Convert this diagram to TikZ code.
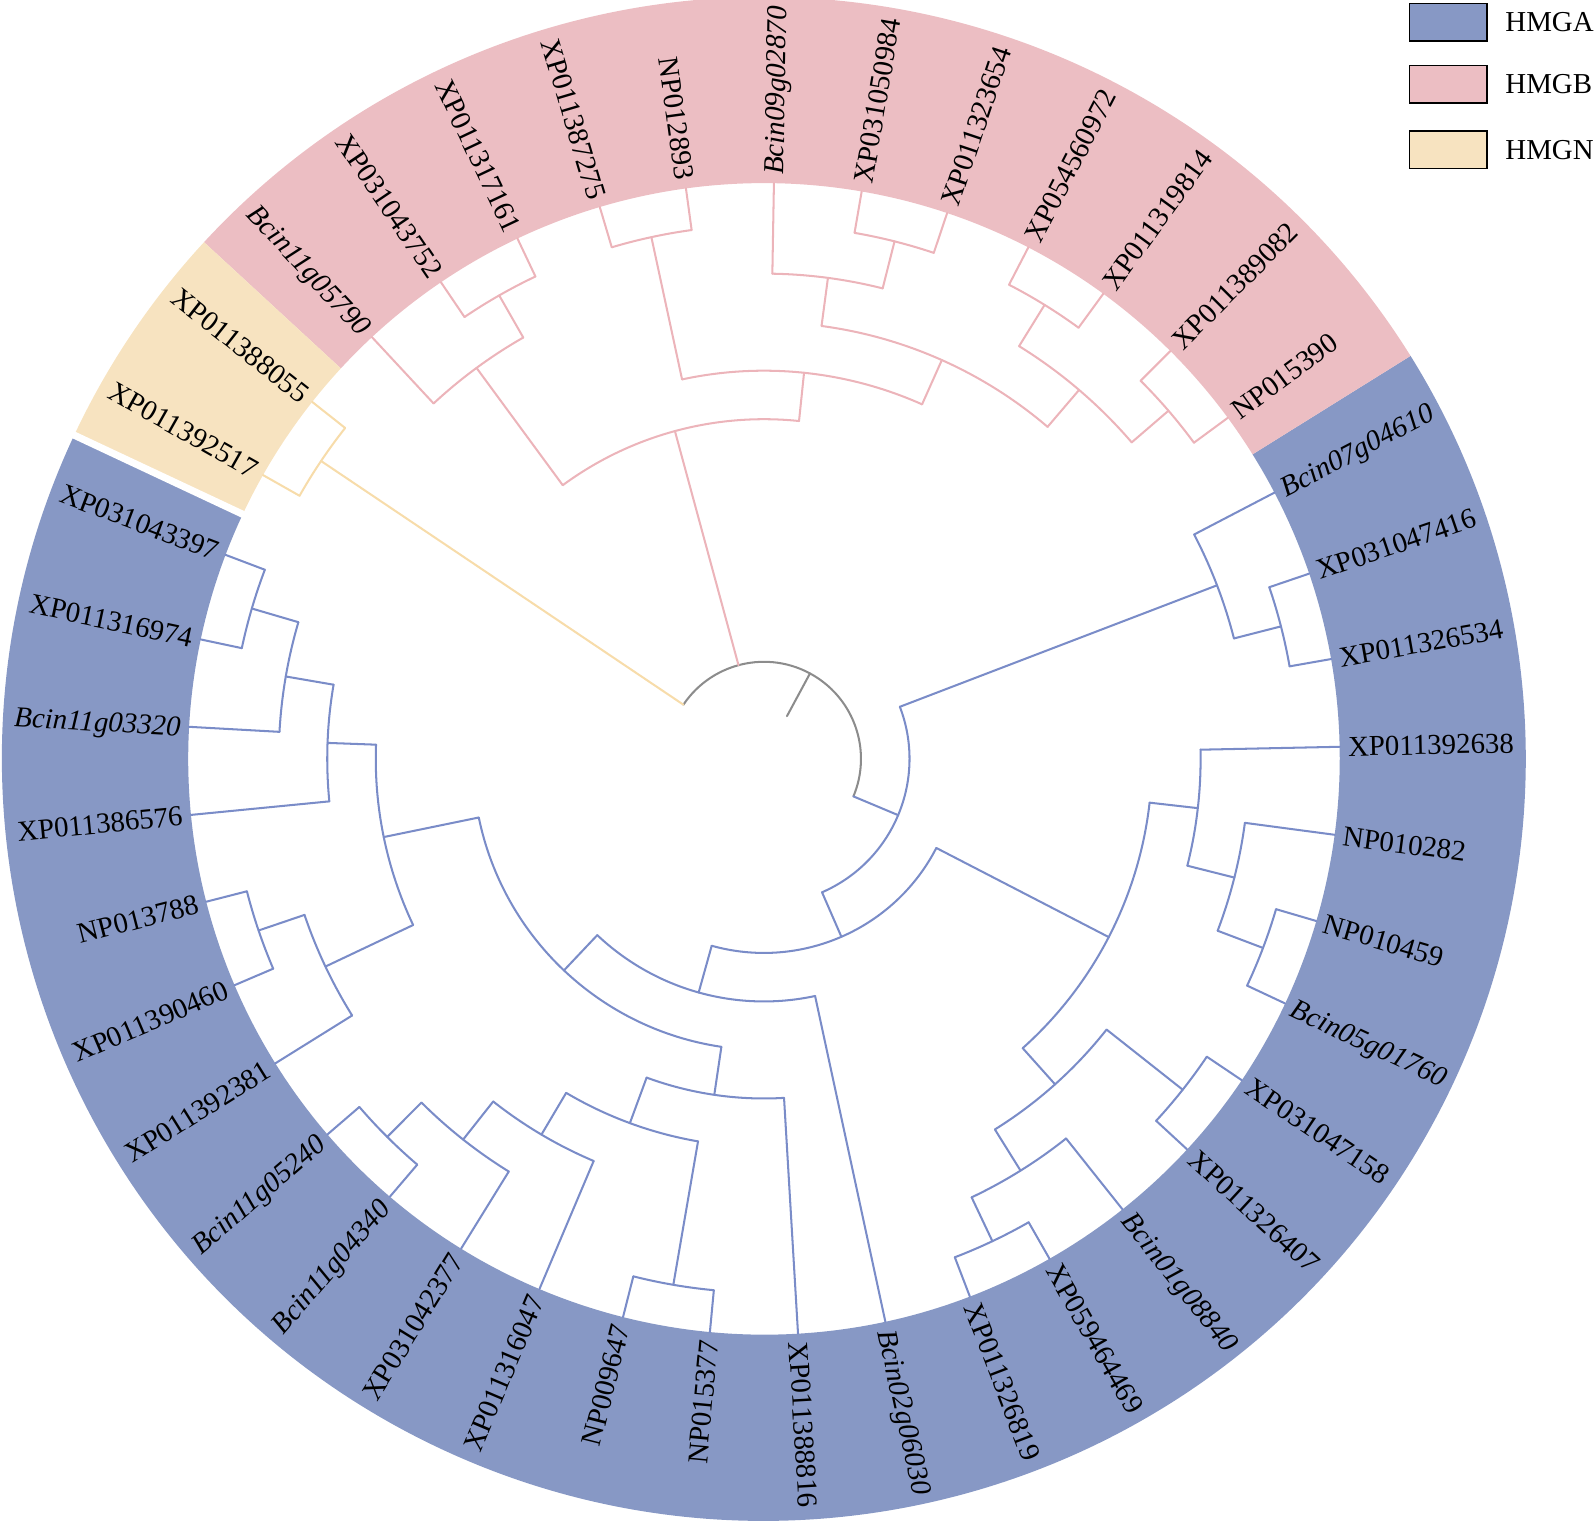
\documentclass[tikz,border=0pt]{standalone}
\usepackage{fontspec}
\setmainfont{Liberation Serif}
\definecolor{fa}{HTML}{8798C5}
\definecolor{fb}{HTML}{ECBEC3}
\definecolor{fn}{HTML}{F7E3C0}
\definecolor{lblue}{HTML}{7A8CC8}
\definecolor{lpink}{HTML}{ECB4BA}
\definecolor{lyel}{HTML}{F7DCAA}
\definecolor{lgray}{HTML}{8C8C8C}
\tikzset{
  bl/.style={draw=lblue, line width=1pt, line cap=round},
  pk/.style={draw=lpink, line width=1pt, line cap=round},
  yl/.style={draw=lyel, line width=1pt, line cap=round},
  gr/.style={draw=lgray, line width=1pt, line cap=round},
  lab/.style={font=\fontsize{14.2}{16}\selectfont, inner sep=0pt, text height=9.4pt, text depth=0pt},
  legbox/.style={draw=black, line width=0.8pt, minimum width=38pt, minimum height=18.5pt, inner sep=0pt},
}
\newcommand\carc[4]{\draw[#1] (#3:#2pt) arc[start angle=#3,end angle=#4,radius=#2pt];}
\newcommand\cstem[4]{\draw[#1] (#2:#3pt) -- (#2:#4pt);}
\newcommand\ringseg[3]{\fill[#1] (#2:283pt) arc[start angle=#2,end angle=#3,radius=283pt] -- (#3:374.5pt) arc[start angle=#3,end angle=#2,radius=374.5pt] -- cycle;}
\newcommand\labR[3]{\node[lab, rotate=#2, anchor=west] (#1) at (#2:287pt) {#3};}
\newcommand\labL[3]{\node[lab, rotate=#2+180, anchor=east] (#1) at (#2:287pt) {#3};}
\begin{document}
\begin{tikzpicture}
\useasboundingbox (-375.5pt,-376.5pt) rectangle (408.5pt,373pt);
% ring
\ringseg{fa}{31.93}{-205.14}
\ringseg{fb}{137.30}{31.93}
\ringseg{fn}{154.86}{137.30}
\draw[white, line width=3.5pt] (154.86:280pt) -- (154.86:377pt);
% root
\cstem{gr}{61.66}{23.85}{47.7}
\carc{gr}{47.7}{146.078}{-22.758}
\cstem{yl}{146.078}{47.7}{262.35}
\cstem{pk}{105.194}{47.7}{166.95}
\cstem{bl}{-22.758}{47.7}{71.55}
% HMGN
\carc{yl}{262.35}{150.468}{141.6875}
\cstem{yl}{150.468}{262.35}{283}
\cstem{yl}{141.6875}{262.35}{283}
% HMGB
\carc{pk}{166.95}{126.322}{84.066}
\cstem{pk}{126.322}{166.95}{238.5}
\cstem{pk}{84.066}{166.95}{190.8}
\carc{pk}{238.5}{132.907}{119.736}
\cstem{pk}{132.907}{238.5}{283}
\cstem{pk}{119.736}{238.5}{262.35}
\carc{pk}{262.35}{124.1265}{115.346}
\cstem{pk}{124.1265}{262.35}{283}
\cstem{pk}{115.346}{262.35}{283}
\carc{pk}{190.8}{102.175}{65.956}
\cstem{pk}{102.175}{190.8}{262.35}
\cstem{pk}{65.956}{190.8}{214.65}
\carc{pk}{262.35}{106.5655}{97.785}
\cstem{pk}{106.5655}{262.35}{283}
\cstem{pk}{97.785}{262.35}{283}
\carc{pk}{214.65}{82.419}{49.493}
\cstem{pk}{82.419}{214.65}{238.5}
\cstem{pk}{49.493}{214.65}{238.5}
\carc{pk}{238.5}{89.0045}{75.834}
\cstem{pk}{89.0045}{238.5}{283}
\cstem{pk}{75.834}{238.5}{262.35}
\carc{pk}{262.35}{80.224}{71.4435}
\cstem{pk}{80.224}{262.35}{283}
\cstem{pk}{71.4435}{262.35}{283}
\carc{pk}{238.5}{58.273}{40.712}
\cstem{pk}{58.273}{238.5}{262.35}
\cstem{pk}{40.712}{238.5}{262.35}
\carc{pk}{262.35}{62.663}{53.8825}
\cstem{pk}{62.663}{262.35}{283}
\cstem{pk}{53.8825}{262.35}{283}
\carc{pk}{262.35}{45.102}{36.3215}
\cstem{pk}{45.102}{262.35}{283}
\cstem{pk}{36.3215}{262.35}{283}
% HMGA
\carc{bl}{71.55}{20.956}{-66.472}
\cstem{bl}{20.956}{71.55}{238.5}
\cstem{bl}{-66.472}{71.55}{95.4}
\carc{bl}{238.5}{27.541}{14.370}
\cstem{bl}{27.541}{238.5}{283}
\cstem{bl}{14.370}{238.5}{262.35}
\carc{bl}{262.35}{18.7605}{9.98}
\cstem{bl}{18.7605}{262.35}{283}
\cstem{bl}{9.98}{262.35}{283}
\carc{bl}{95.4}{-27.337}{-105.607}
\cstem{bl}{-27.337}{95.4}{190.8}
\cstem{bl}{-105.607}{95.4}{119.25}
\carc{bl}{190.8}{-6.483}{-48.190}
\cstem{bl}{-6.483}{190.8}{214.65}
\cstem{bl}{-48.190}{190.8}{214.65}
\carc{bl}{214.65}{1.2}{-14.166}
\cstem{bl}{1.2}{214.65}{283}
\cstem{bl}{-14.166}{214.65}{238.5}
\carc{bl}{238.5}{-7.5805}{-20.751}
\cstem{bl}{-7.5805}{238.5}{283}
\cstem{bl}{-20.751}{238.5}{262.35}
\carc{bl}{262.35}{-16.361}{-25.1415}
\cstem{bl}{-16.361}{262.35}{283}
\cstem{bl}{-25.1415}{262.35}{283}
\carc{bl}{214.65}{-38.312}{-58.068}
\cstem{bl}{-38.312}{214.65}{262.35}
\cstem{bl}{-58.068}{214.65}{238.5}
\carc{bl}{262.35}{-33.922}{-42.7025}
\cstem{bl}{-33.922}{262.35}{283}
\cstem{bl}{-42.7025}{262.35}{283}
\carc{bl}{238.5}{-51.483}{-64.654}
\cstem{bl}{-51.483}{238.5}{283}
\cstem{bl}{-64.654}{238.5}{262.35}
\carc{bl}{262.35}{-60.2635}{-69.044}
\cstem{bl}{-60.2635}{262.35}{283}
\cstem{bl}{-69.044}{262.35}{283}
\carc{bl}{119.25}{-77.8245}{-133.389}
\cstem{bl}{-77.8245}{119.25}{283}
\cstem{bl}{-133.389}{119.25}{143.1}
\carc{bl}{143.1}{-98.404}{-168.374}
\cstem{bl}{-98.404}{143.1}{166.95}
\cstem{bl}{-168.374}{143.1}{190.8}
\carc{bl}{166.95}{-86.605}{-110.203}
\cstem{bl}{-86.605}{166.95}{283}
\cstem{bl}{-110.203}{166.95}{190.8}
\carc{bl}{190.8}{-99.776}{-120.629}
\cstem{bl}{-99.776}{190.8}{262.35}
\cstem{bl}{-120.629}{190.8}{214.65}
\carc{bl}{262.35}{-95.3855}{-104.166}
\cstem{bl}{-95.3855}{262.35}{283}
\cstem{bl}{-104.166}{262.35}{283}
\carc{bl}{214.65}{-112.9465}{-128.312}
\cstem{bl}{-112.9465}{214.65}{283}
\cstem{bl}{-128.312}{214.65}{238.5}
\carc{bl}{238.5}{-121.727}{-134.898}
\cstem{bl}{-121.727}{238.5}{283}
\cstem{bl}{-134.898}{238.5}{262.35}
\carc{bl}{262.35}{-130.5075}{-139.288}
\cstem{bl}{-130.5075}{262.35}{283}
\cstem{bl}{-139.288}{262.35}{283}
\carc{bl}{190.8}{-154.654}{-182.093}
\cstem{bl}{-154.654}{190.8}{238.5}
\cstem{bl}{-182.093}{190.8}{214.65}
\carc{bl}{238.5}{-148.0685}{-161.239}
\cstem{bl}{-148.0685}{238.5}{283}
\cstem{bl}{-161.239}{238.5}{262.35}
\carc{bl}{262.35}{-156.849}{-165.6295}
\cstem{bl}{-156.849}{262.35}{283}
\cstem{bl}{-165.6295}{262.35}{283}
\carc{bl}{214.65}{-174.41}{-189.776}
\cstem{bl}{-174.41}{214.65}{283}
\cstem{bl}{-189.776}{214.65}{238.5}
\carc{bl}{238.5}{-183.1905}{-196.361}
\cstem{bl}{-183.1905}{238.5}{283}
\cstem{bl}{-196.361}{238.5}{262.35}
\carc{bl}{262.35}{-191.971}{-200.7515}
\cstem{bl}{-191.971}{262.35}{283}
\cstem{bl}{-200.7515}{262.35}{283}
% labels
\labR{l0}{1.2}{XP011392638}
\labR{l1}{-7.5805}{NP010282}
\labR{l2}{-16.361}{NP010459}
\labR{l3}{-25.1415}{\itshape Bcin05g01760}
\labR{l4}{-33.922}{XP031047158}
\labR{l5}{-42.7025}{XP011326407}
\labR{l6}{-51.483}{\itshape Bcin01g08840}
\labR{l7}{-60.2635}{XP059464469}
\labR{l8}{-69.044}{XP011326819}
\labR{l9}{-77.8245}{\itshape Bcin02g06030}
\labR{l10}{-86.605}{XP011388816}
\labL{l11}{-95.3855}{NP015377}
\labL{l12}{-104.166}{NP009647}
\labL{l13}{-112.9465}{XP011316047}
\labL{l14}{-121.727}{XP031042377}
\labL{l15}{-130.5075}{\itshape Bcin11g04340}
\labL{l16}{-139.288}{\itshape Bcin11g05240}
\labL{l17}{-148.0685}{XP011392381}
\labL{l18}{-156.849}{XP011390460}
\labL{l19}{-165.6295}{NP013788}
\labL{l20}{-174.41}{XP011386576}
\labL{l21}{-183.1905}{\itshape Bcin11g03320}
\labL{l22}{-191.971}{XP011316974}
\labL{l23}{-200.7515}{XP031043397}
\labL{l24}{150.468}{XP011392517}
\labL{l25}{141.6875}{XP011388055}
\labL{l26}{132.907}{\itshape Bcin11g05790}
\labL{l27}{124.1265}{XP031043752}
\labL{l28}{115.346}{XP011317161}
\labL{l29}{106.5655}{XP011387275}
\labL{l30}{97.785}{NP012893}
\labR{l31}{89.0045}{\itshape Bcin09g02870}
\labR{l32}{80.224}{XP031050984}
\labR{l33}{71.4435}{XP011323654}
\labR{l34}{62.663}{XP054560972}
\labR{l35}{53.8825}{XP011319814}
\labR{l36}{45.102}{XP011389082}
\labR{l37}{36.3215}{NP015390}
\labR{l38}{27.541}{\itshape Bcin07g04610}
\labR{l39}{18.7605}{XP031047416}
\labR{l40}{9.98}{XP011326534}
% legend
\node[legbox, fill=fa] (kA) at (336.4pt,362.1pt) {};
\node[legbox, fill=fb] (kB) at (336.4pt,331.6pt) {};
\node[legbox, fill=fn] (kN) at (336.4pt,299.45pt) {};
\node[lab, anchor=west] (tA) at (364.25pt,362.1pt) {HMGA};
\node[lab, anchor=west] (tB) at (364.25pt,331.6pt) {HMGB};
\node[lab, anchor=west] (tN) at (364.25pt,299.45pt) {HMGN};
\end{tikzpicture}
\end{document}
